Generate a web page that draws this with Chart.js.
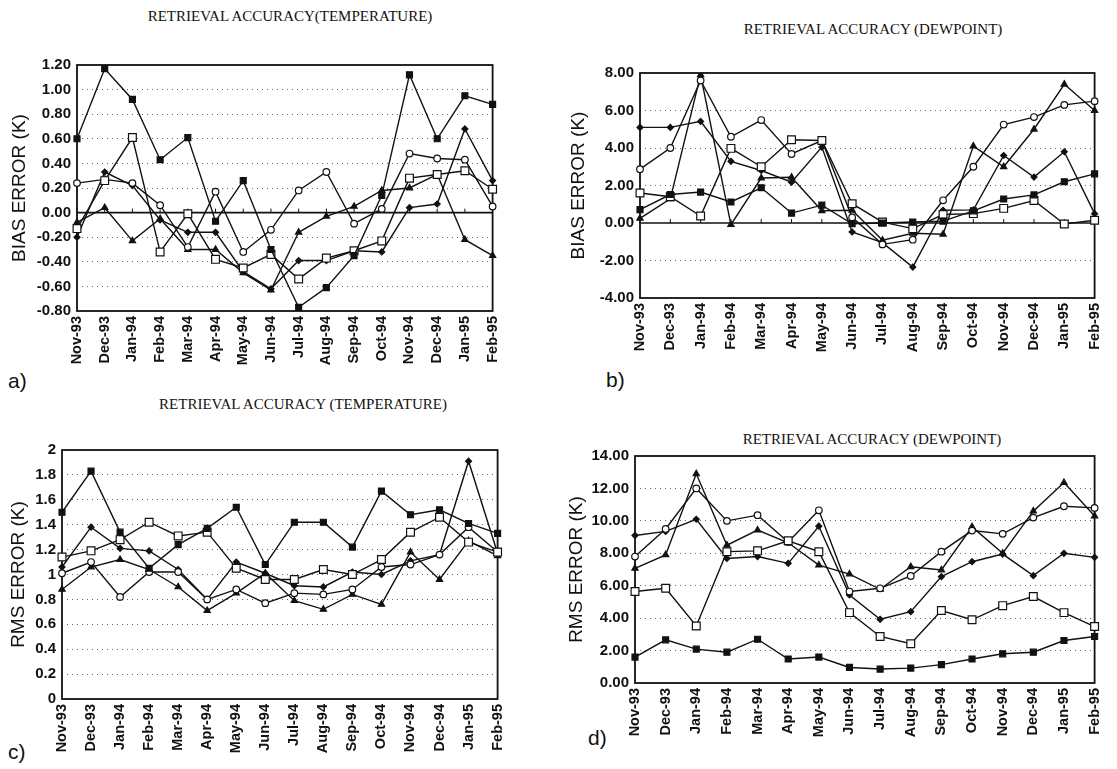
<!DOCTYPE html>
<html><head><meta charset="utf-8">
<script src="https://cdn.jsdelivr.net/npm/chart.js@4/dist/chart.umd.min.js"></script>
<style>
body{margin:0;background:#fff;width:1117px;height:769px;position:relative;overflow:hidden;}
canvas{position:absolute;}
.title{position:absolute;font-family:"Liberation Serif","DejaVu Serif",serif;font-size:15px;color:#111;white-space:nowrap;transform:translateX(-50%);}
.lab{position:absolute;font-family:"Liberation Sans",sans-serif;font-size:21px;color:#111;}
</style></head><body>
<div class="title" style="left:290px;top:8px">RETRIEVAL ACCURACY(TEMPERATURE)</div>
<div class="title" style="left:873px;top:21px">RETRIEVAL ACCURACY (DEWPOINT)</div>
<div class="title" style="left:303px;top:396px">RETRIEVAL ACCURACY (TEMPERATURE)</div>
<div class="title" style="left:872px;top:431px">RETRIEVAL ACCURACY (DEWPOINT)</div>
<div class="lab" style="left:8px;top:369px">a)</div>
<div class="lab" style="left:606px;top:368px">b)</div>
<div class="lab" style="left:8px;top:740px">c)</div>
<div class="lab" style="left:588px;top:726px">d)</div>
<canvas id="ca" width="515" height="395" style="left:0;top:0"></canvas>
<canvas id="cb" width="552" height="385" style="left:565px;top:0"></canvas>
<canvas id="cc" width="520" height="369" style="left:0;top:400px"></canvas>
<canvas id="cd" width="552" height="349" style="left:565px;top:420px"></canvas>
<script>
// Categories
const months = ['Nov-93','Dec-93','Jan-94','Feb-94','Mar-94','Apr-94','May-94','Jun-94','Jul-94','Aug-94','Sep-94','Oct-94','Nov-94','Dec-94','Jan-95','Feb-95'];

// a) Bias error, temperature (K)
const aFilledSquare = [0.60, 1.17, 0.92, 0.43, 0.61, -0.07, 0.26, -0.30, -0.77, -0.61, -0.35, 0.14, 1.12, 0.60, 0.95, 0.88];
const aOpenSquare   = [-0.13, 0.26, 0.61, -0.32, -0.01, -0.38, -0.45, -0.34, -0.54, -0.37, -0.31, -0.23, 0.28, 0.31, 0.34, 0.19];
const aOpenCircle   = [0.24, 0.27, 0.24, 0.06, -0.28, 0.17, -0.32, -0.14, 0.18, 0.33, -0.09, 0.03, 0.48, 0.44, 0.43, 0.05];
const aDiamond      = [-0.20, 0.33, 0.22, -0.06, -0.16, -0.16, -0.48, -0.62, -0.39, -0.39, -0.31, -0.32, 0.04, 0.07, 0.68, 0.26];
const aTriangle     = [-0.08, 0.04, -0.23, -0.05, -0.30, -0.30, -0.49, -0.63, -0.16, -0.03, 0.05, 0.18, 0.20, 0.31, -0.22, -0.35];

// b) Bias error, dewpoint (K)
const bFilledSquare = [0.71, 1.52, 1.65, 1.12, 1.88, 0.53, 0.95, -0.04, 0.00, 0.05, 0.10, 0.65, 1.28, 1.50, 2.20, 2.62];
const bOpenSquare   = [1.60, 1.40, 0.37, 3.98, 3.00, 4.44, 4.40, 1.03, 0.05, -0.30, 0.45, 0.50, 0.78, 1.20, -0.05, 0.15];
const bOpenCircle   = [2.87, 4.00, 7.60, 4.60, 5.49, 3.68, 4.40, 0.30, -1.14, -0.89, 1.21, 3.00, 5.25, 5.65, 6.30, 6.50];
const bDiamond      = [5.10, 5.10, 5.42, 3.29, 2.80, 2.18, 4.05, -0.48, -1.05, -2.35, 0.68, 0.70, 3.60, 2.45, 3.80, 0.50];
const bTriangle     = [0.25, 1.29, 7.90, -0.09, 2.40, 2.44, 0.65, 0.68, -0.92, -0.55, -0.60, 4.10, 3.00, 5.00, 7.40, 6.00];

// c) RMS error, temperature (K)
const cFilledSquare = [1.50, 1.83, 1.34, 1.05, 1.24, 1.37, 1.54, 1.08, 1.42, 1.42, 1.22, 1.67, 1.48, 1.52, 1.41, 1.33];
const cOpenSquare   = [1.14, 1.19, 1.28, 1.42, 1.31, 1.34, 1.05, 0.96, 0.96, 1.04, 1.00, 1.12, 1.34, 1.46, 1.26, 1.18];
const cOpenCircle   = [1.01, 1.10, 0.82, 1.02, 1.02, 0.80, 0.88, 0.77, 0.85, 0.84, 0.88, 1.06, 1.08, 1.16, 1.38, 1.18];
const cDiamond      = [1.06, 1.38, 1.21, 1.19, 1.04, 0.80, 1.10, 1.01, 0.91, 0.90, 1.02, 1.00, 1.11, 1.16, 1.91, 1.17];
const cTriangle     = [0.88, 1.06, 1.12, 1.04, 0.90, 0.71, 0.85, 1.01, 0.79, 0.72, 0.84, 0.76, 1.18, 0.96, 1.27, 1.15];

// d) RMS error, dewpoint (K)
const dFilledSquare = [1.60, 2.66, 2.09, 1.90, 2.70, 1.48, 1.60, 0.96, 0.86, 0.92, 1.13, 1.48, 1.80, 1.90, 2.62, 2.87];
const dOpenSquare   = [5.64, 5.84, 3.52, 8.10, 8.15, 8.77, 8.10, 4.34, 2.87, 2.42, 4.47, 3.90, 4.77, 5.33, 4.34, 3.48];
const dOpenCircle   = [7.80, 9.50, 12.00, 10.00, 10.35, 8.70, 10.65, 5.64, 5.84, 6.60, 8.10, 9.40, 9.20, 10.20, 10.90, 10.80];
const dDiamond      = [9.10, 9.35, 10.10, 7.68, 7.80, 7.38, 9.67, 5.43, 3.93, 4.40, 6.56, 7.48, 7.95, 6.62, 8.00, 7.75];
const dTriangle     = [7.07, 7.90, 12.90, 8.50, 9.43, 8.65, 7.27, 6.72, 5.78, 7.17, 6.97, 9.63, 8.00, 10.60, 12.36, 10.30];

const INK = '#111';
const SANS = '"Liberation Sans", Arial, sans-serif';
const markerStyles = [
  {pointStyle:'rect', pointRadius:4.2, pointBackgroundColor:INK},
  {pointStyle:'rect', pointRadius:5.5, pointBackgroundColor:'#fff'},
  {pointStyle:'circle', pointRadius:3.3, pointBackgroundColor:'#fff'},
  {pointStyle:'rectRot', pointRadius:3, pointBackgroundColor:INK},
  {pointStyle:'triangle', pointRadius:3.6, pointBackgroundColor:INK}
];

const framePlugin = {
  id:'frame',
  beforeDatasetsDraw(chart, args, opts){
    const {ctx, chartArea:a, scales:{x,y}} = chart;
    ctx.save();
    ctx.strokeStyle = INK;
    if (opts.zero) {
      const yz = y.getPixelForValue(0);
      ctx.lineWidth = 1.6;
      ctx.beginPath(); ctx.moveTo(a.left, yz); ctx.lineTo(a.right, yz); ctx.stroke();
      ctx.lineWidth = 1;
      x.ticks.forEach((t,i)=>{ const px = x.getPixelForTick(i); ctx.beginPath(); ctx.moveTo(px, yz); ctx.lineTo(px, yz-4); ctx.stroke(); });
    }
    ctx.lineWidth = 1.8;
    ctx.strokeRect(a.left, a.top, a.right-a.left, a.bottom-a.top);
    ctx.restore();
  }
};

function makeChart(id, series, cfg){
  const datasets = series.map((s,i)=>Object.assign({
    data:s, borderColor:INK, borderWidth:1.4, tension:0, fill:false,
    pointBorderColor:INK, pointBorderWidth:1.2, pointHoverRadius:4
  }, markerStyles[i]));
  return new Chart(document.getElementById(id), {
    type:'line',
    data:{labels:months, datasets},
    plugins:[framePlugin],
    options:{
      responsive:false, animation:false, devicePixelRatio:1,
      layout:{padding:{top:cfg.padTop, right:cfg.padRight, left:0, bottom:0}},
      plugins:{legend:{display:false}, tooltip:{enabled:false}, frame:{zero:cfg.zero}},
      scales:{
        x:{
          offset:false,
          grid:{display:false, drawTicks:false},
          border:{display:false},
          ticks:{autoSkip:false, maxRotation:90, minRotation:90, padding:5, color:INK,
                 font:{family:SANS, size:14.5, weight:'bold'}},
          afterFit(s){ s.height = cfg.xHeight; }
        },
        y:{
          min:cfg.min, max:cfg.max,
          grid:{drawTicks:false, lineWidth:1,
            color:c => { const v = c.tick ? c.tick.value : null;
              if (v===null || Math.abs(v-cfg.min)<1e-9 || Math.abs(v-cfg.max)<1e-9 || Math.abs(v)<1e-9) return 'rgba(0,0,0,0)';
              return '#666'; }},
          border:{display:false, dash:[1,4]},
          ticks:{stepSize:cfg.step, padding:6, color:INK, callback:cfg.fmt,
                 font:{family:SANS, size:15, weight:'bold'}},
          title:{display:true, text:cfg.yTitle, color:INK, padding:{top:cfg.titlePad, bottom:0},
                 font:{family:SANS, size:19}},
          afterFit(s){ s.width = cfg.yWidth; }
        }
      }
    }
  });
}

const fmt2 = v => v.toFixed(2);
const fmtShort = v => String(Math.round(v*10)/10);

makeChart('ca', [aFilledSquare, aOpenSquare, aOpenCircle, aDiamond, aTriangle],
  {min:-0.8, max:1.2, step:0.2, fmt:fmt2, yTitle:'BIAS ERROR (K)', zero:true,
   padTop:65, padRight:12, xHeight:84, yWidth:77, titlePad:8});
makeChart('cb', [bFilledSquare, bOpenSquare, bOpenCircle, bDiamond, bTriangle],
  {min:-4, max:8, step:2, fmt:fmt2, yTitle:'BIAS ERROR (K)', zero:true,
   padTop:73, padRight:15, xHeight:87, yWidth:75, titlePad:2});
makeChart('cc', [cFilledSquare, cOpenSquare, cOpenCircle, cDiamond, cTriangle],
  {min:0, max:2, step:0.2, fmt:fmtShort, yTitle:'RMS ERROR (K)', zero:false,
   padTop:50, padRight:13, xHeight:70, yWidth:62, titlePad:7});
makeChart('cd', [dFilledSquare, dOpenSquare, dOpenCircle, dDiamond, dTriangle],
  {min:0, max:14, step:2, fmt:fmt2, yTitle:'RMS ERROR (K)', zero:false,
   padTop:36, padRight:16, xHeight:86, yWidth:70, titlePad:0});
</script>
</body></html>
